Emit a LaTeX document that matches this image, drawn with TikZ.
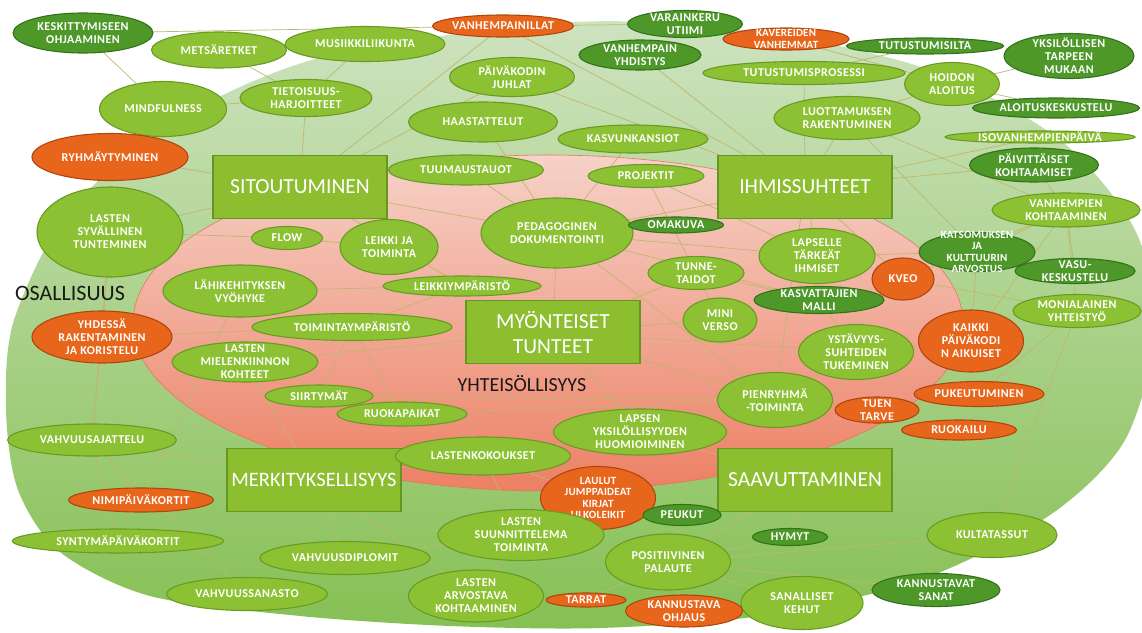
\documentclass[tikz,border=0pt]{standalone}
\usepackage{fontspec}
\setmainfont{Carlito}
\usetikzlibrary{shapes.geometric}
\pgfdeclarelayer{bg}
\pgfdeclarelayer{links}
\pgfsetlayers{bg,links,main}
\definecolor{lgFill}{RGB}{141,193,52}
\definecolor{lgLine}{RGB}{105,155,35}
\definecolor{dgFill}{RGB}{78,152,42}
\definecolor{dgLine}{RGB}{50,115,25}
\definecolor{orFill}{RGB}{232,102,28}
\definecolor{orLine}{RGB}{175,70,15}
\definecolor{boxFill}{RGB}{140,190,48}
\definecolor{boxLine}{RGB}{100,150,35}
\definecolor{linkCol}{RGB}{192,182,108}
\definecolor{outerTop}{RGB}{206,227,192}
\definecolor{outerBot}{RGB}{134,192,84}
\definecolor{innerTop}{RGB}{246,210,200}
\definecolor{innerBot}{RGB}{236,128,100}
\definecolor{innerLine}{RGB}{228,120,90}
\definecolor{areaText}{RGB}{25,25,25}
\tikzset{
  lgbub/.style={ellipse, draw=lgLine, fill=lgFill, line width=1.1pt, inner sep=0pt},
  dgbub/.style={ellipse, draw=dgLine, fill=dgFill, line width=1.1pt, inner sep=0pt},
  orbub/.style={ellipse, draw=orLine, fill=orFill, line width=1.1pt, inner sep=0pt},
  btxt/.style={text=white, align=center, inner sep=0pt,
    font=\fontsize{12}{13}\selectfont\bfseries\addfontfeatures{LetterSpace=4}},
  smalltxt/.style={font=\fontsize{11}{11.5}\selectfont\bfseries\addfontfeatures{LetterSpace=2}},
  perma/.style={draw=boxLine, fill=boxFill, line width=1.1pt, text=white, align=center,
    minimum width=174pt, minimum height=63pt, inner sep=0pt, font=\fontsize{21.5}{25}\selectfont},
  areatxt/.style={text=areaText, inner sep=0pt, font=\fontsize{22}{24}\selectfont},
  link/.style={draw=linkCol, line width=0.7pt},
}
% bubble: [text options]{name}{x}{y}{width}{height}{style}{text}
\newcommand{\bub}[8][]{%
  \node[#7, minimum width=#5pt, minimum height=#6pt] (#2) at (#3,#4) {};
  \node[btxt,#1] (#2-t) at (#2) {#8};}

\begin{document}
\begin{tikzpicture}[x=1pt, y=-1pt]
\useasboundingbox (0,0) rectangle (1142,632);

% background areas
\begin{pgfonlayer}{bg}
  \shade[top color=outerTop, bottom color=outerBot]
    plot[smooth cycle] coordinates {(575,22) (760,32) (930,70) (1060,140) (1135,230)
      (1155,330) (1125,440) (1050,515) (920,580) (760,616) (600,628) (450,626)
      (300,616) (150,596) (60,552) (18,490) (6,410) (14,320) (70,210) (180,118) (330,55)};
  \shade[top color=innerTop, bottom color=innerBot, draw=innerLine, line width=0.6pt]
    (548,323) ellipse [x radius=415pt, y radius=168pt];
\end{pgfonlayer}

% PERMA boxes
\node[perma] (sitout) at (300,187) {SITOUTUMINEN};
\node[perma] (ihmiss) at (805,187) {IHMISSUHTEET};
\node[perma] (myont) at (553,332) {MYÖNTEISET\\TUNTEET};
\node[perma, font=\fontsize{20.5}{25}\selectfont] (merkit) at (314,480) {MERKITYKSELLISYYS};
\node[perma] (saavut) at (805,480) {SAAVUTTAMINEN};

\node[areatxt] (osall) at (70,293) {OSALLISUUS};
\node[areatxt, font=\fontsize{20}{22}\selectfont] (yhteis) at (522,384) {YHTEISÖLLISYYS};

% bubbles, top
\bub{kesk}{83}{33}{140}{40}{dgbub}{KESKITTYMISEEN\\OHJAAMINEN}
\bub{metsa}{219}{50}{135}{36}{lgbub}{METSÄRETKET}
\bub{musiikki}{365}{44}{160}{35}{lgbub}{MUSIIKKILIIKUNTA}
\bub{mind}{163}{109}{127}{55}{lgbub}{MINDFULNESS}
\bub{tietoisuus}{306}{98}{132}{37}{lgbub}{TIETOISUUS-\\HARJOITTEET}
\bub{vanhillat}{503}{26}{141}{22}{orbub}{VANHEMPAINILLAT}
\bub{varainkeruu}{685}{24}{115}{27}{dgbub}{VARAINKERU\\UTIIMI}
\bub[smalltxt]{kavereiden}{786}{39}{126}{22}{orbub}{KAVEREIDEN\\VANHEMMAT}
\bub{yhdistys}{640}{55}{122}{30}{dgbub}{VANHEMPAIN\\YHDISTYS}
\bub{tutsilta}{925}{46}{157}{16}{dgbub}{TUTUSTUMISILTA}
\bub{yksil}{1069}{56}{130}{45}{dgbub}{YKSILÖLLISEN\\TARPEEN\\MUKAAN}
\bub{tutprosessi}{804}{73}{202}{23}{lgbub}{TUTUSTUMISPROSESSI}
\bub{hoidon}{952}{84}{95}{43}{lgbub}{HOIDON\\ALOITUS}
\bub{juhlat}{512}{77}{125}{39}{lgbub}{PÄIVÄKODIN\\JUHLAT}
\bub{luottamus}{847}{118}{146}{43}{lgbub}{LUOTTAMUKSEN\\RAKENTUMINEN}
\bub{aloitus}{1056}{108}{167}{20}{dgbub}{ALOITUSKESKUSTELU}
\bub{haast}{483}{122}{149}{40}{lgbub}{HAASTATTELUT}
\bub{kasvunk}{633}{139}{150}{28}{lgbub}{KASVUNKANSIOT}
\bub{isovanh}{1040}{137}{190}{12}{lgbub}{ISOVANHEMPIENPÄIVÄ}
\bub{ryhma}{110}{157}{156}{47}{orbub}{RYHMÄYTYMINEN}
\bub{tuumaus}{466}{170}{155}{30}{lgbub}{TUUMAUSTAUOT}
\bub{projektit}{646}{176}{116}{23}{lgbub}{PROJEKTIT}
\bub{paivittaiset}{1034}{165}{129}{34}{dgbub}{PÄIVITTÄISET\\KOHTAAMISET}

% bubbles, middle
\bub{syvallinen}{110}{232}{146}{90}{lgbub}{LASTEN\\SYVÄLLINEN\\TUNTEMINEN}
\bub{flow}{287}{238}{71}{23}{lgbub}{FLOW}
\bub{leikki}{389}{247}{98}{55}{lgbub}{LEIKKI JA\\TOIMINTA}
\bub{pedag}{557}{233}{152}{70}{lgbub}{PEDAGOGINEN\\DOKUMENTOINTI}
\bub{omakuva}{676}{225}{95}{16}{dgbub}{OMAKUVA}
\bub{vanhempien}{1066}{210}{148}{34}{lgbub}{VANHEMPIEN\\KOHTAAMINEN}
\bub{lapselle}{817}{256}{116}{55}{lgbub}{LAPSELLE\\TÄRKEÄT\\IHMISET}
\bub[smalltxt]{katsomuksen}{977}{252}{116}{39}{dgbub}{KATSOMUKSEN\\JA\\KULTTUURIN\\ARVOSTUS}
\bub{tunne}{696}{273}{96}{33}{lgbub}{TUNNE-\\TAIDOT}
\bub{kveo}{903}{279}{62}{42}{orbub}{KVEO}
\bub{vasu}{1075}{271}{120}{25}{dgbub}{VASU-\\KESKUSTELU}
\bub{lahi}{240}{291}{154}{52}{lgbub}{LÄHIKEHITYKSEN\\VYÖHYKE}
\bub{leikkiymp}{462}{286}{158}{20}{lgbub}{LEIKKIYMPÄRISTÖ}
\bub{kasvattajien}{819}{300}{130}{27}{dgbub}{KASVATTAJIEN\\MALLI}
\bub{monialainen}{1077}{311}{128}{33}{lgbub}{MONIALAINEN\\YHTEISTYÖ}
\bub{miniverso}{720}{320}{74}{44}{lgbub}{MINI\\VERSO}
\bub{toimymp}{352}{327}{200}{27}{lgbub}{TOIMINTAYMPÄRISTÖ}
\bub{yhdessa}{102}{337}{140}{52}{orbub}{YHDESSÄ\\RAKENTAMINEN\\JA KORISTELU}
\bub{kaikki}{971}{341}{105}{62}{orbub}{KAIKKI\\PÄIVÄKODI\\N AIKUISET}
\bub{ystavyys}{856}{352}{115}{55}{lgbub}{YSTÄVYYS-\\SUHTEIDEN\\TUKEMINEN}
\bub{mielen}{245}{362}{146}{40}{lgbub}{LASTEN\\MIELENKIINNON\\KOHTEET}
\bub{siirtymat}{319}{396}{108}{22}{lgbub}{SIIRTYMÄT}
\bub{ruokapaikat}{402}{414}{130}{24}{lgbub}{RUOKAPAIKAT}
\bub{pienryhma}{775}{400}{115}{55}{lgbub}{PIENRYHMÄ\\-TOIMINTA}
\bub{pukeutuminen}{979}{394}{130}{25}{orbub}{PUKEUTUMINEN}
\bub{tuen}{877}{410}{84}{26}{orbub}{TUEN\\TARVE}
\bub{ruokailu}{959}{430}{115}{20}{orbub}{RUOKAILU}

% bubbles, bottom
\bub{lapsen}{640}{432}{173}{46}{lgbub}{LAPSEN\\YKSILÖLLISYYDEN\\HUOMIOIMINEN}
\bub{vahvajat}{92}{440}{169}{32}{lgbub}{VAHVUUSAJATTELU}
\bub{lastenkok}{483}{456}{175}{38}{lgbub}{LASTENKOKOUKSET}
\bub[smalltxt]{laulut}{598}{498}{115}{63}{orbub}{LAULUT\\JUMPPAIDEAT\\KIRJAT\\ULKOLEIKIT}
\bub{nimipaiva}{141}{500}{145}{24}{orbub}{NIMIPÄIVÄKORTIT}
\bub{peukut}{682}{515}{78}{21}{dgbub}{PEUKUT}
\bub{suunnit}{521}{535}{166}{51}{lgbub}{LASTEN\\SUUNNITTELEMA\\TOIMINTA}
\bub{kultatassut}{992}{535}{130}{45}{lgbub}{KULTATASSUT}
\bub{hymyt}{790}{537}{75}{17}{dgbub}{HYMYT}
\bub{syntyma}{118}{541}{211}{24}{lgbub}{SYNTYMÄPÄIVÄKORTIT}
\bub{vahvdipl}{345}{558}{170}{33}{lgbub}{VAHVUUSDIPLOMIT}
\bub{posit}{668}{562}{125}{56}{lgbub}{POSITIIVINEN\\PALAUTE}
\bub{kannsanat}{936}{590}{128}{33}{dgbub}{KANNUSTAVAT\\SANAT}
\bub{vahvsanasto}{247}{594}{161}{33}{lgbub}{VAHVUUSSANASTO}
\bub{arvostava}{476}{596}{135}{52}{lgbub}{LASTEN\\ARVOSTAVA\\KOHTAAMINEN}
\bub{tarrat}{586}{600}{80}{14}{orbub}{TARRAT}
\bub{sanalliset}{802}{603}{122}{53}{lgbub}{SANALLISET\\KEHUT}
\bub{kannohj}{684}{611}{117}{32}{orbub}{KANNUSTAVA\\OHJAUS}

% connectors
\begin{pgfonlayer}{links}
\foreach \a/\b in {kesk/vanhillat, kesk/mind, metsa/tietoisuus, musiikki/tietoisuus,
    mind/tietoisuus, tietoisuus/sitout, sitout/juhlat, sitout/vanhillat, ryhma/sitout,
    syvallinen/sitout, syvallinen/yhdessa, syvallinen/vahvajat, vanhillat/varainkeruu,
    vanhillat/ihmiss, juhlat/ihmiss, yhdistys/ihmiss, tutprosessi/ihmiss, luottamus/ihmiss,
    hoidon/luottamus, hoidon/yksil, hoidon/aloitus, hoidon/kavereiden, tutprosessi/tutsilta,
    luottamus/vanhempien, luottamus/katsomuksen, ihmiss/isovanh, ihmiss/paivittaiset,
    paivittaiset/vanhempien, vanhempien/katsomuksen, vanhempien/vasu, vanhempien/monialainen,
    vanhempien/kveo, vanhempien/kaikki, ihmiss/lapselle, ihmiss/kveo, ihmiss/pedag,
    ihmiss/pienryhma, kveo/monialainen, katsomuksen/kaikki, lapselle/katsomuksen,
    monialainen/kultatassut, monialainen/pukeutuminen, pienryhma/tuen, tuen/pukeutuminen,
    tuen/ruokailu, ystavyys/kaikki, kultatassut/posit, saavut/posit, saavut/peukut,
    saavut/hymyt, saavut/lapsen, posit/tarrat, posit/kannohj, posit/peukut, posit/sanalliset,
    posit/hymyt, posit/kannsanat, pedag/haast, pedag/kasvunk, pedag/tuumaus, pedag/omakuva,
    pedag/myont, pedag/pienryhma, pedag/lapselle, pedag/kasvattajien, sitout/pedag,
    sitout/leikkiymp, flow/leikki, flow/syvallinen, lahi/leikkiymp, leikkiymp/toimymp,
    toimymp/yhdessa, mielen/myont, toimymp/siirtymat, toimymp/ruokapaikat,
    siirtymat/pienryhma, ruokapaikat/pienryhma, mielen/merkit, lahi/nimipaiva,
    yhdessa/vahvajat, vahvajat/vahvsanasto, vahvajat/merkit, vahvajat/syntyma,
    vahvajat/nimipaiva, merkit/lastenkok, merkit/arvostava, merkit/vahvdipl,
    vahvdipl/suunnit, lastenkok/suunnit, lastenkok/laulut, lapsen/lastenkok, laulut/peukut,
    lapsen/myont, myont/miniverso, myont/tunne, myont/ystavyys, myont/pienryhma,
    ystavyys/pienryhma, kasvattajien/ystavyys, tunne/miniverso, tunne/kasvattajien,
    projektit/tunne, projektit/lapselle, suunnit/arvostava}
  \draw[link] (\a) -- (\b);
\end{pgfonlayer}
\end{tikzpicture}
\end{document}
